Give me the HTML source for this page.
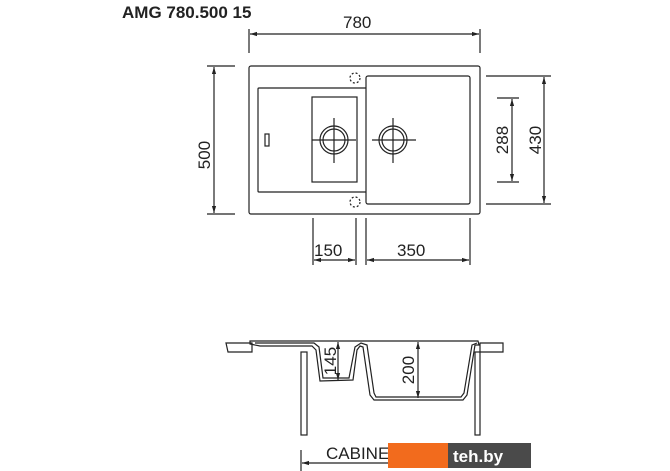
<!DOCTYPE html>
<html><head><meta charset="utf-8"><style>
html,body{margin:0;padding:0;background:#fff;}
svg{display:block;}
text{font-family:"Liberation Sans",sans-serif;fill:#222;}
</style></head><body>
<svg width="670" height="471" viewBox="0 0 670 471" xmlns="http://www.w3.org/2000/svg">
<defs>
<marker id="a" viewBox="0 0 10 10" refX="10" refY="5" markerWidth="6" markerHeight="6" orient="auto-start-reverse"><path d="M0,2 L10,5 L0,8 z" fill="#222"/></marker>
</defs>
<text x="122" y="18" font-size="17" font-weight="bold">AMG 780.500 15</text>
<g stroke="#222" stroke-width="1.2" fill="none">
<line x1="249" y1="29" x2="249" y2="53"/><line x1="480" y1="29" x2="480" y2="53"/>
<line x1="250" y1="34" x2="479" y2="34" marker-start="url(#a)" marker-end="url(#a)"/>
<rect x="249" y="66" width="231" height="148" rx="2"/>
<rect x="258" y="88" width="109" height="104" rx="1"/>
<rect x="312" y="97" width="45" height="85"/>
<rect x="366" y="76" width="104" height="128" rx="2" fill="#fff"/>
<rect x="265" y="134" width="4" height="12"/>
<circle cx="334" cy="140" r="14"/><circle cx="334" cy="140" r="11"/>
<line x1="312" y1="140" x2="356" y2="140"/><line x1="334" y1="118" x2="334" y2="163"/>
<circle cx="393" cy="140" r="14"/><circle cx="393" cy="140" r="11"/>
<line x1="372" y1="140" x2="416" y2="140"/><line x1="393" y1="118" x2="393" y2="163"/>
<circle cx="355" cy="78" r="5" stroke-dasharray="2,2"/><circle cx="355" cy="202" r="5" stroke-dasharray="2,2"/>
<line x1="207" y1="66" x2="235" y2="66"/><line x1="207" y1="214" x2="235" y2="214"/>
<line x1="214" y1="67" x2="214" y2="213" marker-start="url(#a)" marker-end="url(#a)"/>
<line x1="497" y1="98" x2="519" y2="98"/><line x1="497" y1="182" x2="519" y2="182"/>
<line x1="512" y1="99" x2="512" y2="181" marker-start="url(#a)" marker-end="url(#a)"/>
<line x1="486" y1="76" x2="551" y2="76"/><line x1="486" y1="204" x2="551" y2="204"/>
<line x1="544" y1="77" x2="544" y2="203" marker-start="url(#a)" marker-end="url(#a)"/>
<line x1="313" y1="218" x2="313" y2="265"/><line x1="356" y1="218" x2="356" y2="265"/>
<line x1="366" y1="218" x2="366" y2="265"/><line x1="470" y1="218" x2="470" y2="265"/>
<line x1="314" y1="260" x2="355" y2="260" marker-start="url(#a)" marker-end="url(#a)"/>
<line x1="367" y1="260" x2="469" y2="260" marker-start="url(#a)" marker-end="url(#a)"/>
<path d="M226,343 L252,343 L252,352 L228,352 Z"/>
<path d="M480,343 L503,343 L503,352 L480,352 Z"/>
<rect x="301" y="352" width="6" height="83"/>
<rect x="475" y="352" width="5" height="83"/>
<path d="M250,341 L478,341 L479,345 L475,345 L467,395 L463,400 L374,400 L370,395 L363,347 L360,346 L357,350 L353,380 L320,381 L316,350 L312,346 L260,346 L250,344 Z"/>
<path d="M255,343 L314,343 L319,347 L323,378 L349,378 L355,347 L361,343 L367,345 L374,393 L376,397 L461,397 L464,393 L472,345 L477,343"/>
<line x1="338" y1="342" x2="338" y2="380" marker-start="url(#a)" marker-end="url(#a)"/>
<line x1="418" y1="342" x2="418" y2="398" marker-start="url(#a)" marker-end="url(#a)"/>
<line x1="301" y1="450" x2="301" y2="471"/>
<line x1="302" y1="463" x2="478" y2="463" marker-start="url(#a)"/>
</g>
<text x="314" y="256" font-size="17">150</text>
<text x="397" y="256" font-size="17">350</text>
<text x="343" y="28" font-size="17">780</text>
<text font-size="17" transform="translate(210,155) rotate(-90)" text-anchor="middle">500</text>
<text font-size="17" transform="translate(508,140) rotate(-90)" text-anchor="middle">288</text>
<text font-size="17" transform="translate(541,140) rotate(-90)" text-anchor="middle">430</text>
<text font-size="17" transform="translate(336,361) rotate(-90)" text-anchor="middle">145</text>
<text font-size="17" transform="translate(414,370) rotate(-90)" text-anchor="middle">200</text>
<text x="326" y="459" font-size="17">CABINET</text>
<rect x="388" y="443" width="60" height="25" fill="#f26b1d"/>
<rect x="448" y="443" width="83" height="25" fill="#4a4a4a"/>
<text x="453" y="462" font-size="17" font-weight="bold" style="fill:#fff">teh.by</text>
</svg>
</body></html>
